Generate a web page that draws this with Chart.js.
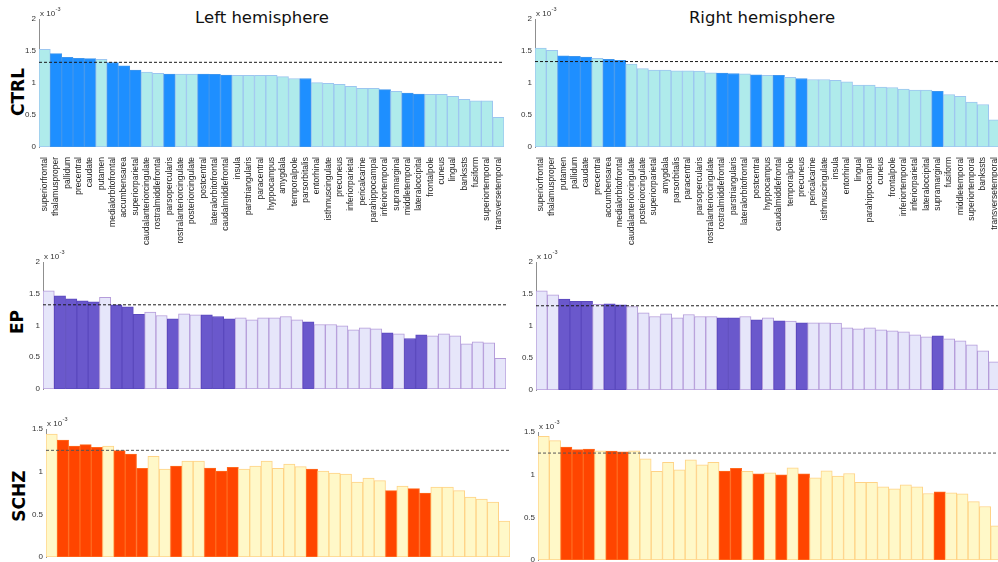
<!DOCTYPE html>
<html>
<head>
<meta charset="utf-8">
<script src="https://cdn.jsdelivr.net/npm/chart.js@4"></script>
<style>
  html, body { margin: 0; padding: 0; background: #fff; overflow: hidden; }
  #page { position: relative; width: 998px; height: 562px; overflow: hidden; }
  canvas { position: absolute; }
  .title { position: absolute; top: 8px; width: 300px; margin-left: -150px; text-align: center;
           font-family: "DejaVu Sans", sans-serif; font-size: 16.5px; line-height: 20px; color: #111; }
  .row { position: absolute; font-family: "DejaVu Sans", sans-serif; font-weight: bold; font-size: 17px;
         color: #000; transform: translate(-50%, -50%) rotate(-90deg); white-space: nowrap; }
</style>
</head>
<body>
<div id="page">
  <div class="title" style="left:262px">Left hemisphere</div>
  <div class="title" style="left:762px">Right hemisphere</div>
  <div class="row" style="left:18px; top:92px">CTRL</div>
  <div class="row" style="left:17px; top:322px">EP</div>
  <div class="row" style="left:19px; top:496px">SCHZ</div>
</div>
<script>
// Brain regions, ordered by control-group value in each hemisphere
const leftRegions = ['superiorfrontal','thalamusproper','pallidum','precentral','caudate','putamen',
  'medialorbitofrontal','accumbensarea','superiorparietal','caudalanteriorcingulate','rostralmiddlefrontal',
  'parsopercularis','rostralanteriorcingulate','posteriorcingulate','postcentral','lateralorbitofrontal',
  'caudalmiddlefrontal','insula','parstriangularis','paracentral','hyppocampus','amygdala','temporalpole',
  'parsorbitalis','entorhinal','isthmuscingulate','precuneus','inferiorparietal','pericalcarine',
  'parahippocampal','inferiortemporal','supramarginal','middletemporal','lateraloccipital','frontalpole',
  'cuneus','lingual','bankssts','fusiform','superiortemporal','transversetemporal'];

const rightRegions = ['superiorfrontal','thalamusproper','putamen','pallidum','caudate','precentral',
  'accumbensarea','medialorbitofrontal','caudalanteriorcingulate','posteriorcingulate','superiorparietal',
  'amygdala','parsorbitalis','paracentral','parsopercularis','rostralanteriorcingulate','rostralmiddlefrontal',
  'parstriangularis','lateralorbitofrontal','postcentral','hyppocampus','caudalmiddlefrontal','temporalpole',
  'precuneus','pericalcarine','isthmuscingulate','insula','entorhinal','lingual','parahippocampal','cuneus',
  'frontalpole','inferiortemporal','inferiorparietal','lateraloccipital','supramarginal','fusiform',
  'middletemporal','superiortemporal','bankssts','transversetemporal'];

// Regions drawn in the strong colour
const leftHighlighted = ['thalamusproper','pallidum','precentral','caudate','medialorbitofrontal',
  'accumbensarea','superiorparietal','parsopercularis','postcentral','lateralorbitofrontal',
  'caudalmiddlefrontal','parsorbitalis','inferiortemporal','middletemporal','lateraloccipital'];
const rightHighlighted = ['putamen','pallidum','caudate','accumbensarea','medialorbitofrontal',
  'rostralmiddlefrontal','parstriangularis','postcentral','caudalmiddlefrontal','precuneus','supramarginal'];

// Values in units of 1e-3
const ctrlLeft = [1.526,1.46,1.40,1.385,1.38,1.37,1.32,1.27,1.20,1.17,1.15,1.14,1.14,1.14,1.14,1.135,1.125,
  1.12,1.12,1.12,1.12,1.10,1.07,1.07,1.005,0.995,0.98,0.948,0.917,0.917,0.896,0.87,0.844,0.828,0.823,0.823,
  0.79,0.745,0.72,0.72,0.464];
const ctrlRight = [1.546,1.51,1.425,1.415,1.405,1.385,1.37,1.353,1.295,1.227,1.20,1.20,1.19,1.19,1.185,1.16,
  1.155,1.148,1.145,1.128,1.118,1.118,1.087,1.07,1.055,1.055,1.04,1.018,0.966,0.966,0.935,0.93,0.904,0.888,
  0.888,0.868,0.82,0.79,0.70,0.664,0.423];
const epLeft = [1.547,1.468,1.421,1.389,1.374,1.442,1.326,1.295,1.174,1.21,1.158,1.105,1.184,1.168,1.168,
  1.142,1.105,1.121,1.089,1.121,1.121,1.142,1.089,1.058,1.016,1.016,0.995,0.932,0.963,0.947,0.884,0.868,
  0.795,0.853,0.837,0.868,0.837,0.711,0.742,0.726,0.484];
const epRight = [1.551,1.488,1.42,1.384,1.384,1.337,1.347,1.332,1.305,1.206,1.149,1.191,1.128,1.18,1.149,
  1.149,1.128,1.128,1.149,1.097,1.128,1.081,1.076,1.05,1.05,1.05,1.044,0.971,0.956,0.971,0.94,0.924,0.909,
  0.862,0.83,0.846,0.799,0.768,0.705,0.611,0.439];
const schzLeft = [1.441,1.371,1.301,1.316,1.285,1.301,1.246,1.207,1.039,1.18,1.031,1.066,1.125,1.125,1.043,
  1.008,1.051,1.031,1.066,1.125,1.039,1.09,1.059,1.031,1.008,0.984,0.973,0.879,0.926,0.895,0.777,0.832,
  0.801,0.75,0.82,0.82,0.777,0.703,0.68,0.645,0.422];
const schzRight = [1.449,1.398,1.324,1.293,1.30,1.28,1.277,1.269,1.28,1.187,1.038,1.144,1.058,1.175,1.116,
  1.144,1.042,1.073,1.038,1.011,1.022,0.999,1.081,1.011,0.964,1.046,0.983,1.014,0.909,0.909,0.858,0.834,
  0.881,0.858,0.779,0.799,0.787,0.776,0.685,0.627,0.40];

// Dashed reference levels (units of 1e-3)
const thresholds = { ctrlLeft: 1.323, ctrlRight: 1.335, epLeft: 1.326, epRight: 1.316, schzLeft: 1.25, schzRight: 1.253 };
const yTickStep = 0.5;

const palettes = {
  ctrl: { strong: '#1E8FFF', strongEdge: '#3F96EE', light: '#AFEBEB', lightEdge: '#9CC6F0', dash: '#1a1a1a' },
  ep:   { strong: '#6A58CC', strongEdge: '#5B49BE', light: '#E6E6FA', lightEdge: '#B59CDA', dash: '#1a1a1a' },
  schz: { strong: '#FF4500', strongEdge: '#FF6A1E', light: '#FFF8C8', lightEdge: '#FFD386', dash: '#555555' }
};

const AXIS_W = 34, PAD_TOP = 16, PAD_RIGHT = 2;

const refLine = {
  id: 'refLine',
  afterDatasetsDraw(chart, args, opts) {
    const { ctx, chartArea } = chart;
    const y = chart.scales.y.getPixelForValue(opts.value);
    ctx.save();
    ctx.strokeStyle = opts.color;
    ctx.lineWidth = 1;
    ctx.setLineDash([3, 2]);
    ctx.beginPath();
    ctx.moveTo(chartArea.left, y);
    ctx.lineTo(chartArea.right, y);
    ctx.stroke();
    ctx.setLineDash([]);
    // exponent note at the top of the axis
    ctx.fillStyle = '#333';
    ctx.textBaseline = 'alphabetic';
    ctx.font = '8px "Liberation Sans", Arial, sans-serif';
    ctx.fillText('x 10', chartArea.left + 1, chartArea.top - 3);
    const w = ctx.measureText('x 10').width;
    ctx.font = '5.5px "Liberation Sans", Arial, sans-serif';
    ctx.fillText('-3', chartArea.left + 1.5 + w, chartArea.top - 8);
    ctx.restore();
  }
};

function makePanel(p) {
  const showLabels = !!p.showLabels;
  const XH = showLabels ? 110 : 0;
  const PB = showLabels ? 0 : 2;
  const canvas = document.createElement('canvas');
  const W = Math.round(p.right - p.left) + AXIS_W + PAD_RIGHT;
  const H = Math.round(p.bottom - p.top) + PAD_TOP + XH + PB;
  canvas.width = W; canvas.height = H;
  canvas.style.width = W + 'px'; canvas.style.height = H + 'px';
  canvas.style.left = (p.left - AXIS_W) + 'px';
  canvas.style.top = (p.top - PAD_TOP) + 'px';
  document.getElementById('page').appendChild(canvas);

  const hl = new Set(p.highlighted);
  const pal = p.palette;
  const bg = p.labels.map(r => hl.has(r) ? pal.strong : pal.light);
  const edge = p.labels.map(r => hl.has(r) ? pal.strongEdge : pal.lightEdge);

  new Chart(canvas, {
    type: 'bar',
    data: {
      labels: p.labels,
      datasets: [{
        data: p.values,
        backgroundColor: bg,
        borderColor: edge,
        borderWidth: 1,
        borderSkipped: false,
        categoryPercentage: 1,
        barPercentage: 1
      }]
    },
    options: {
      responsive: false,
      animation: false,
      devicePixelRatio: 1,
      layout: { padding: { top: PAD_TOP, right: PAD_RIGHT, left: 0, bottom: PB } },
      plugins: {
        legend: { display: false },
        tooltip: { enabled: false },
        refLine: { value: p.threshold, color: pal.dash }
      },
      scales: {
        x: {
          display: showLabels,
          grid: { display: false },
          border: { display: false },
          ticks: {
            autoSkip: false, maxRotation: 90, minRotation: 90, padding: 2,
            color: '#222', font: { family: '"Liberation Sans", Arial, sans-serif', size: 8.5 }
          },
          afterFit(s) { s.height = XH; s.paddingLeft = 0; s.paddingRight = 0; }
        },
        y: {
          min: 0, max: p.ymax,
          grid: { display: false, drawTicks: false },
          border: { display: true, color: '#8f8f8f', width: 1 },
          ticks: {
            stepSize: yTickStep, padding: 3, color: '#333',
            font: { family: '"Liberation Sans", Arial, sans-serif', size: 8 },
            callback: v => String(+v.toFixed(1))
          },
          afterFit(s) { s.width = AXIS_W; s.paddingTop = 0; s.paddingBottom = 0; }
        }
      }
    },
    plugins: [refLine]
  });
}

makePanel({ left: 39.3, right: 504.3, top: 19, bottom: 147, ymax: 2, labels: leftRegions, values: ctrlLeft,
  highlighted: leftHighlighted, palette: palettes.ctrl, threshold: thresholds.ctrlLeft, showLabels: true });
makePanel({ left: 535.3, right: 1000.3, top: 19, bottom: 146.7, ymax: 2, labels: rightRegions, values: ctrlRight,
  highlighted: rightHighlighted, palette: palettes.ctrl, threshold: thresholds.ctrlRight, showLabels: true });
makePanel({ left: 43.3, right: 506.7, top: 261.7, bottom: 388.3, ymax: 2, labels: leftRegions, values: epLeft,
  highlighted: leftHighlighted, palette: palettes.ep, threshold: thresholds.epLeft });
makePanel({ left: 535.7, right: 1000, top: 261.7, bottom: 389.3, ymax: 2, labels: rightRegions, values: epRight,
  highlighted: rightHighlighted, palette: palettes.ep, threshold: thresholds.epRight });
makePanel({ left: 46, right: 510, top: 429.3, bottom: 557.3, ymax: 1.5, labels: leftRegions, values: schzLeft,
  highlighted: leftHighlighted, palette: palettes.schz, threshold: thresholds.schzLeft });
makePanel({ left: 538.3, right: 1002, top: 431.7, bottom: 559.3, ymax: 1.5, labels: rightRegions, values: schzRight,
  highlighted: rightHighlighted, palette: palettes.schz, threshold: thresholds.schzRight });
</script>
</body>
</html>
